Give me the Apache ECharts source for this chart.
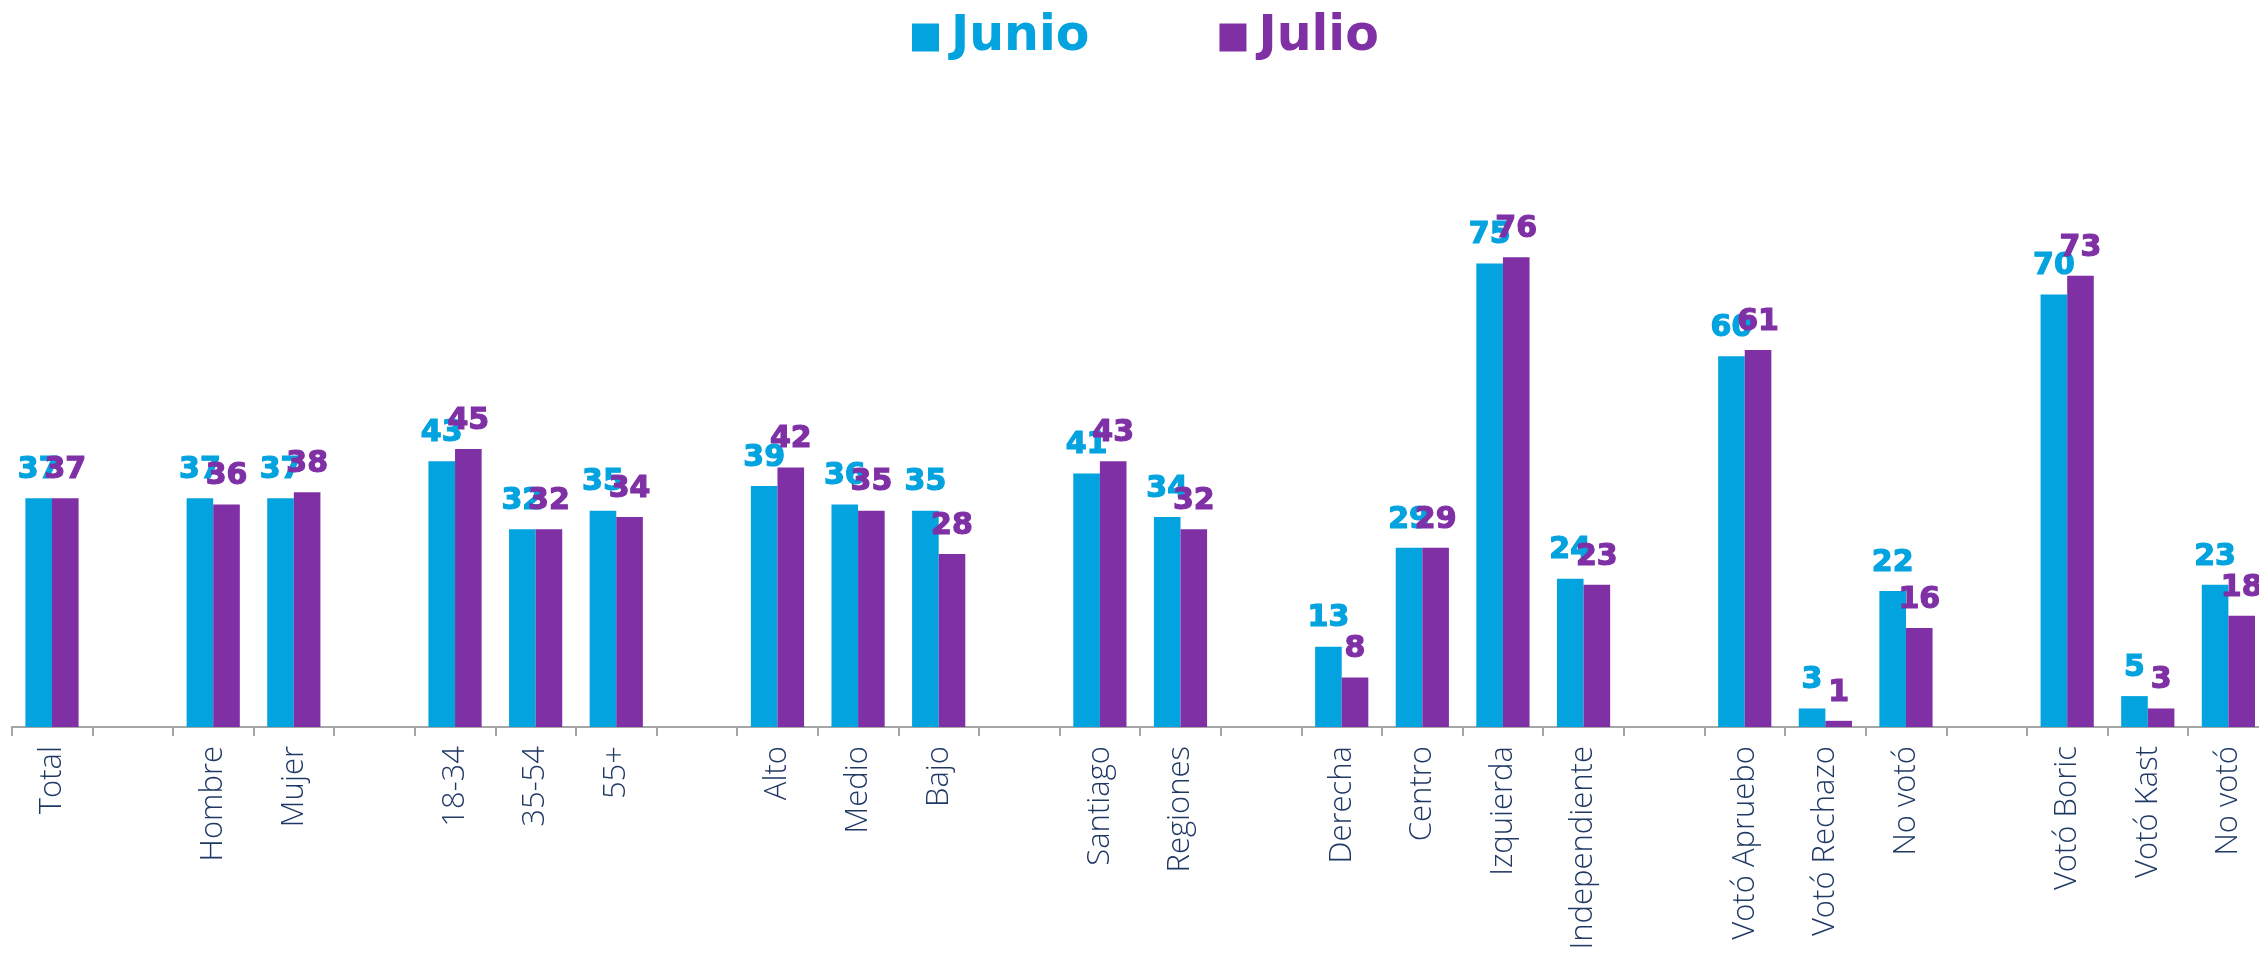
<!DOCTYPE html>
<html>
<head>
<meta charset="utf-8">
<script src="https://cdn.jsdelivr.net/npm/echarts@6/dist/echarts.min.js"></script>
<style>
html,body{margin:0;padding:0;background:#fff;overflow:hidden;width:2259px;height:953px;}
#chart{width:2270px;height:953px;}
</style>
</head>
<body>
<div id="chart"></div>
<script>
var categories = ['Total','', 'Hombre','Mujer','', '18-34','35-54','55+','', 'Alto','Medio','Bajo','', 'Santiago','Regiones','', 'Derecha','Centro','Izquierda','Independiente','', 'Votó Apruebo','Votó Rechazo','No votó','', 'Votó Boric','Votó Kast','No votó'];
var junio = [37,null, 37,37,null, 43,32,35,null, 39,36,35,null, 41,34,null, 13,29,75,24,null, 60,3,22,null, 70,5,23];
var julio = [37,null, 36,38,null, 45,32,34,null, 42,35,28,null, 43,32,null, 8,29,76,23,null, 61,1,16,null, 73,3,18];
var seriesNames = ['Junio','Julio'];

var BLUE = '#02A3DF';
var PURPLE = '#7F30A5';

var chart = echarts.init(document.getElementById('chart'), null, {renderer:'canvas'});
function labelStyle(color){
  return {show:true, position:'top', distance:13, color:color,
    fontFamily:'DejaVu Sans', fontWeight:'bold', fontSize:30,
    textBorderColor:color, textBorderWidth:1.2};
}
chart.setOption({
  animation:false,
  backgroundColor:'#ffffff',
  legend:{
    left:912, top:13, padding:0, itemWidth:27, itemHeight:28, itemGap:130,
    icon:'rect',
    textStyle:{fontFamily:'DejaVu Sans', fontWeight:'bold', fontSize:49, width:140, padding:[0,0,0,7]},
    data:[
      {name:seriesNames[0], textStyle:{color:BLUE}},
      {name:seriesNames[1], textStyle:{color:PURPLE}}
    ]
  },
  grid:{left:11.7, top:109, right:1.3, height:618, containLabel:false},
  xAxis:{
    type:'category', data:categories,
    axisLine:{show:true, lineStyle:{color:'#A6A6A6', width:2}},
    axisTick:{show:true, length:9, lineStyle:{color:'#A6A6A6', width:2}},
    axisLabel:{interval:0, rotate:90, margin:19, color:'#1F3864',
      fontFamily:'Open Sans', fontWeight:300, fontSize:31}
  },
  yAxis:{type:'value', min:0, max:100, show:false, splitLine:{show:false}},
  series:[
    {name:seriesNames[0], type:'bar', data:junio, barGap:'0%', barCategoryGap:'34%',
     itemStyle:{color:BLUE}, label:labelStyle(BLUE)},
    {name:seriesNames[1], type:'bar', data:julio, barGap:'0%', barCategoryGap:'34%',
     itemStyle:{color:PURPLE}, label:labelStyle(PURPLE)}
  ]
});
</script>
</body>
</html>
